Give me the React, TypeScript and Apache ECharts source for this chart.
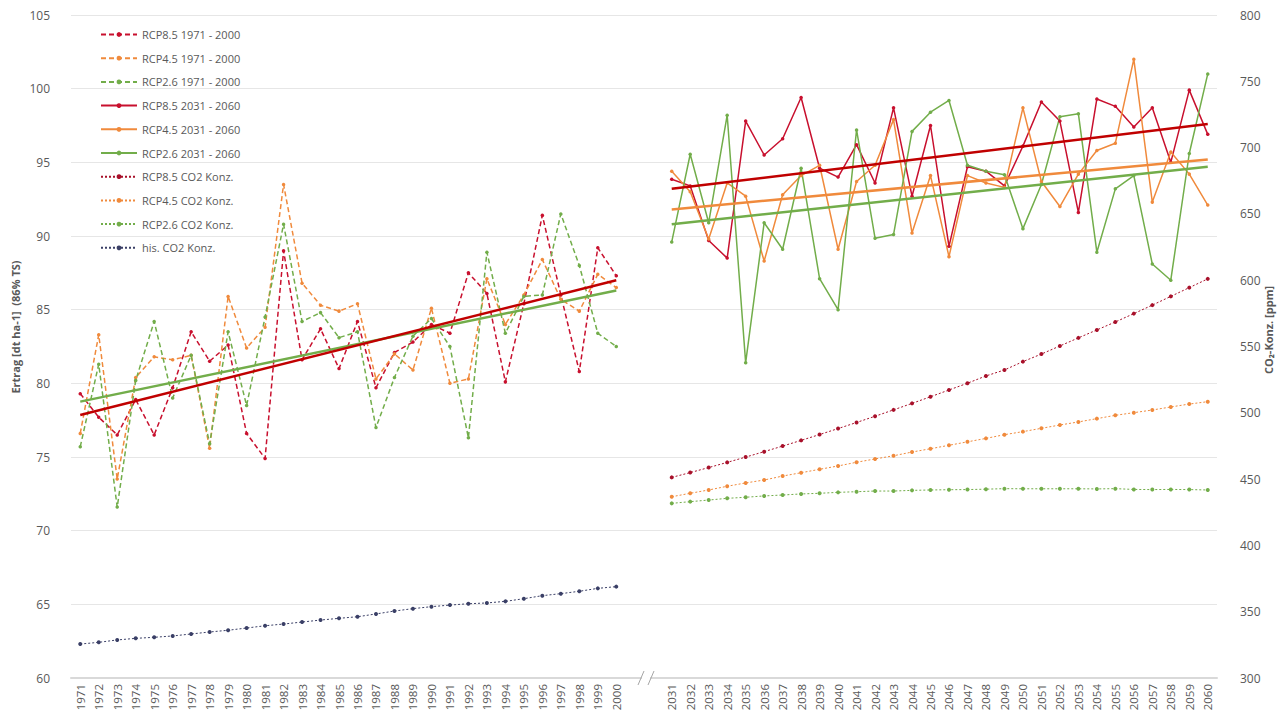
import React, { useEffect, useRef } from "react";
import * as echarts from "echarts";

const yearsPast = ["1971","1972","1973","1974","1975","1976","1977","1978","1979","1980","1981","1982","1983","1984","1985","1986","1987","1988","1989","1990","1991","1992","1993","1994","1995","1996","1997","1998","1999","2000"];
const gapLabels = [" ", "  "];
const yearsFuture = ["2031","2032","2033","2034","2035","2036","2037","2038","2039","2040","2041","2042","2043","2044","2045","2046","2047","2048","2049","2050","2051","2052","2053","2054","2055","2056","2057","2058","2059","2060"];

const rcp85Past = [79.3, 77.7, 76.5, 78.9, 76.5, 79.7, 83.5, 81.5, 82.6, 76.6, 74.9, 89.0, 81.6, 83.7, 81.0, 84.2, 79.7, 82.1, 82.8, 84.0, 83.4, 87.5, 86.1, 80.1, 85.4, 91.4, 86.0, 80.8, 89.2, 87.3];
const rcp45Past = [76.6, 83.3, 73.5, 80.4, 81.8, 81.6, 81.9, 75.6, 85.9, 82.4, 83.8, 93.5, 86.8, 85.3, 84.9, 85.4, 80.3, 82.0, 80.9, 85.1, 80.0, 80.3, 87.1, 84.0, 86.0, 88.4, 85.7, 84.9, 87.4, 86.5];
const rcp26Past = [75.7, 81.3, 71.6, 80.2, 84.2, 79.0, 81.9, 75.9, 83.5, 78.5, 84.5, 90.8, 84.2, 84.8, 83.1, 83.5, 77.0, 80.4, 83.2, 84.4, 82.5, 76.3, 88.9, 83.4, 85.9, 86.0, 91.5, 88.0, 83.4, 82.5];

const rcp85Future = [93.85, 93.4, 89.7, 88.5, 97.8, 95.5, 96.6, 99.4, 94.6, 94.0, 96.2, 93.6, 98.7, 92.7, 97.5, 89.3, 94.7, 94.4, 93.4, 96.1, 99.1, 97.8, 91.6, 99.3, 98.8, 97.4, 98.7, 95.0, 99.9, 96.9];
const rcp45Future = [94.4, 93.0, 89.8, 93.6, 92.7, 88.3, 92.8, 94.1, 94.8, 89.1, 93.7, 94.8, 97.9, 90.2, 94.1, 88.6, 94.1, 93.6, 93.3, 98.7, 93.7, 92.0, 94.2, 95.8, 96.3, 102.0, 92.3, 95.7, 94.2, 92.1];
const rcp26Future = [89.6, 95.55, 90.9, 98.2, 81.4, 90.9, 89.1, 94.6, 87.1, 85.0, 97.2, 89.85, 90.1, 97.1, 98.4, 99.2, 94.8, 94.4, 94.15, 90.5, 93.5, 98.1, 98.3, 88.9, 93.2, 94.1, 88.1, 87.0, 95.6, 101.0];

const co2Hist = [325.6, 326.9, 328.7, 329.9, 330.7, 331.7, 333.2, 334.7, 336.0, 337.7, 339.4, 340.7, 342.2, 343.7, 345.0, 346.2, 348.3, 350.5, 352.3, 353.8, 355.0, 356.0, 356.6, 357.8, 359.8, 362.1, 363.6, 365.4, 367.6, 368.9];
const co2Rcp85 = [451.3, 454.9, 458.7, 462.6, 466.6, 470.7, 474.9, 479.2, 483.6, 488.1, 492.7, 497.4, 502.2, 507.1, 512.1, 517.2, 522.3, 527.8, 532.3, 538.6, 544.3, 550.4, 556.5, 562.5, 568.5, 574.8, 581.2, 587.8, 594.4, 601.0];
const co2Rcp45 = [436.7, 439.3, 441.8, 444.6, 447.1, 449.3, 452.3, 454.8, 457.4, 459.9, 462.7, 465.2, 467.6, 470.4, 472.9, 475.5, 478.1, 480.7, 483.5, 485.8, 488.3, 490.8, 493.1, 495.6, 498.1, 500.1, 502.1, 504.4, 506.6, 508.4];
const co2Rcp26 = [431.7, 433.0, 434.2, 435.5, 436.3, 437.3, 438.0, 438.8, 439.3, 440.0, 440.5, 441.0, 441.0, 441.5, 441.8, 442.0, 442.1, 442.4, 442.8, 442.7, 442.7, 442.7, 442.7, 442.6, 442.8, 442.2, 442.1, 442.2, 442.1, 441.8];

// linear trend lines (start value, end value)
const trendPast85 = [77.85, 87.0];
const trendPast26 = [78.76, 86.3];
const trendFuture85 = [93.2, 97.6];
const trendFuture45 = [91.8, 95.2];
const trendFuture26 = [90.8, 94.7];

const categories = [...yearsPast, ...gapLabels, ...yearsFuture];

const RED = "#C8102E";
const ORANGE = "#F08A3C";
const GREEN = "#72AD4A";
const NAVY = "#3A3F66";
const TEXT = "#595959";
const FONT = "'Open Sans', 'Noto Sans', sans-serif";

const nulls = (n: number) => new Array(n).fill(null);
const pastData = (arr: number[]) => [...arr, ...nulls(gapLabels.length + yearsFuture.length)];
const futureData = (arr: number[]) => [...nulls(yearsPast.length + gapLabels.length), ...arr];
const trendData = (t: number[], future: boolean) => {
  const d: (number | null)[] = nulls(categories.length);
  const start = future ? yearsPast.length + gapLabels.length : 0;
  const len = future ? yearsFuture.length : yearsPast.length;
  d[start] = t[0];
  d[start + len - 1] = t[1];
  return d;
};

const dataLine = (name: string, data: any[], color: string, type: any, width: number, yAxisIndex = 0, symbolSize = 3.5) => ({
  name,
  type: "line",
  data,
  yAxisIndex,
  symbol: "circle",
  symbolSize,
  showSymbol: true,
  connectNulls: false,
  lineStyle: { color, width, type },
  itemStyle: { color, borderWidth: 0 },
  z: 2,
});

const trendLine = (name: string, data: any[], color: string) => ({
  name,
  type: "line",
  data,
  symbol: "none",
  connectNulls: true,
  lineStyle: { color, width: 2.5 },
  itemStyle: { color },
  z: 5,
  silent: true,
});

export default function App() {
  const ref = useRef<HTMLDivElement>(null);
  useEffect(() => {
    if (!ref.current) return;
    const chart = echarts.init(ref.current, undefined, { renderer: "svg" });
    const legendNames = [
      "RCP8.5 1971 - 2000",
      "RCP4.5 1971 - 2000",
      "RCP2.6 1971 - 2000",
      "RCP8.5 2031 - 2060",
      "RCP4.5 2031 - 2060",
      "RCP2.6 2031 - 2060",
      "RCP8.5 CO2 Konz.",
      "RCP4.5 CO2 Konz.",
      "RCP2.6 CO2 Konz.",
      "his. CO2 Konz.",
    ];
    const option: any = {
      animation: false,
      backgroundColor: "#ffffff",
      textStyle: { fontFamily: FONT },
      grid: { left: 71, right: 66, top: 15, bottom: 42, containLabel: false },
      legend: {
        data: legendNames,
        orient: "vertical",
        left: 95,
        top: 24,
        itemWidth: 36,
        itemHeight: 6,
        itemGap: 12.7,
        textStyle: { color: TEXT, fontSize: 11, fontFamily: FONT },
        selectedMode: false,
      },
      xAxis: {
        type: "category",
        data: categories,
        boundaryGap: true,
        axisLine: { show: true, lineStyle: { color: "#D9D9D9", width: 2 } },
        axisTick: { show: false },
        axisLabel: { interval: 0, rotate: 90, color: TEXT, fontSize: 11.5, margin: 6, fontFamily: FONT },
        splitLine: { show: false },
      },
      yAxis: [
        {
          type: "value",
          min: 60,
          max: 105,
          interval: 5,
          axisLine: { show: false },
          axisTick: { show: false },
          axisLabel: { color: TEXT, fontSize: 12, margin: 21, fontFamily: FONT },
          splitLine: { show: true, lineStyle: { color: "#E6E6E6", width: 1 } },
        },
        {
          type: "value",
          min: 300,
          max: 800,
          interval: 50,
          position: "right",
          axisLine: { show: false },
          axisTick: { show: false },
          axisLabel: { color: TEXT, fontSize: 12, margin: 23, fontFamily: FONT },
          splitLine: { show: false },
        },
      ],
      series: [
        dataLine("RCP8.5 1971 - 2000", pastData(rcp85Past), RED, [5, 3], 1.5),
        dataLine("RCP4.5 1971 - 2000", pastData(rcp45Past), ORANGE, [5, 3], 1.5),
        dataLine("RCP2.6 1971 - 2000", pastData(rcp26Past), GREEN, [5, 3], 1.5),
        dataLine("RCP8.5 2031 - 2060", futureData(rcp85Future), RED, "solid", 1.5),
        dataLine("RCP4.5 2031 - 2060", futureData(rcp45Future), ORANGE, "solid", 1.5),
        dataLine("RCP2.6 2031 - 2060", futureData(rcp26Future), GREEN, "solid", 1.5),
        dataLine("RCP8.5 CO2 Konz.", futureData(co2Rcp85), "#A8102A", [2, 2], 1, 1, 4),
        dataLine("RCP4.5 CO2 Konz.", futureData(co2Rcp45), ORANGE, [2, 2], 1, 1, 4),
        dataLine("RCP2.6 CO2 Konz.", futureData(co2Rcp26), GREEN, [2, 2], 1, 1, 4),
        dataLine("his. CO2 Konz.", pastData(co2Hist), NAVY, [2, 2], 1, 1, 4),
        trendLine("Trend RCP2.6 1971 - 2000", trendData(trendPast26, false), GREEN),
        trendLine("Trend RCP8.5 1971 - 2000", trendData(trendPast85, false), "#C00000"),
        trendLine("Trend RCP2.6 2031 - 2060", trendData(trendFuture26, true), GREEN),
        trendLine("Trend RCP4.5 2031 - 2060", trendData(trendFuture45, true), ORANGE),
        trendLine("Trend RCP8.5 2031 - 2060", trendData(trendFuture85, true), "#C00000"),
      ],
    };
    chart.setOption(option);

    const x1 = chart.convertToPixel({ xAxisIndex: 0 }, gapLabels[0]) as number;
    const x2 = chart.convertToPixel({ xAxisIndex: 0 }, gapLabels[1]) as number;
    const yb = chart.convertToPixel({ yAxisIndex: 0 }, 60) as number;
    const xm = (x1 + x2) / 2 + 2;
    chart.setOption({
      graphic: [
        { type: "rect", shape: { x: xm - 4, y: yb - 3, width: 8, height: 6 }, style: { fill: "#ffffff" }, z: 100 },
        { type: "line", shape: { x1: xm - 8, y1: yb + 7, x2: xm - 2, y2: yb - 7 }, style: { stroke: "#A6A6A6", lineWidth: 1 }, z: 101 },
        { type: "line", shape: { x1: xm + 2, y1: yb + 7, x2: xm + 8, y2: yb - 7 }, style: { stroke: "#A6A6A6", lineWidth: 1 }, z: 101 },
        {
          type: "text",
          x: 15,
          y: 327,
          rotation: Math.PI / 2,
          style: { text: "Ertrag [dt ha-1]  (86% TS)", fill: TEXT, font: `bold 11px ${FONT}`, align: "center", verticalAlign: "middle" },
          z: 100,
        },
        {
          type: "text",
          x: 1268,
          y: 330,
          rotation: Math.PI / 2,
          style: { text: "CO₂-Konz. [ppm]", fill: TEXT, font: `bold 11px ${FONT}`, align: "center", verticalAlign: "middle" },
          z: 100,
        },
      ],
    });
    return () => chart.dispose();
  }, []);
  return <div ref={ref} style={{ position: "fixed", left: 0, top: 0, width: 1283, height: 720 }} />;
}
